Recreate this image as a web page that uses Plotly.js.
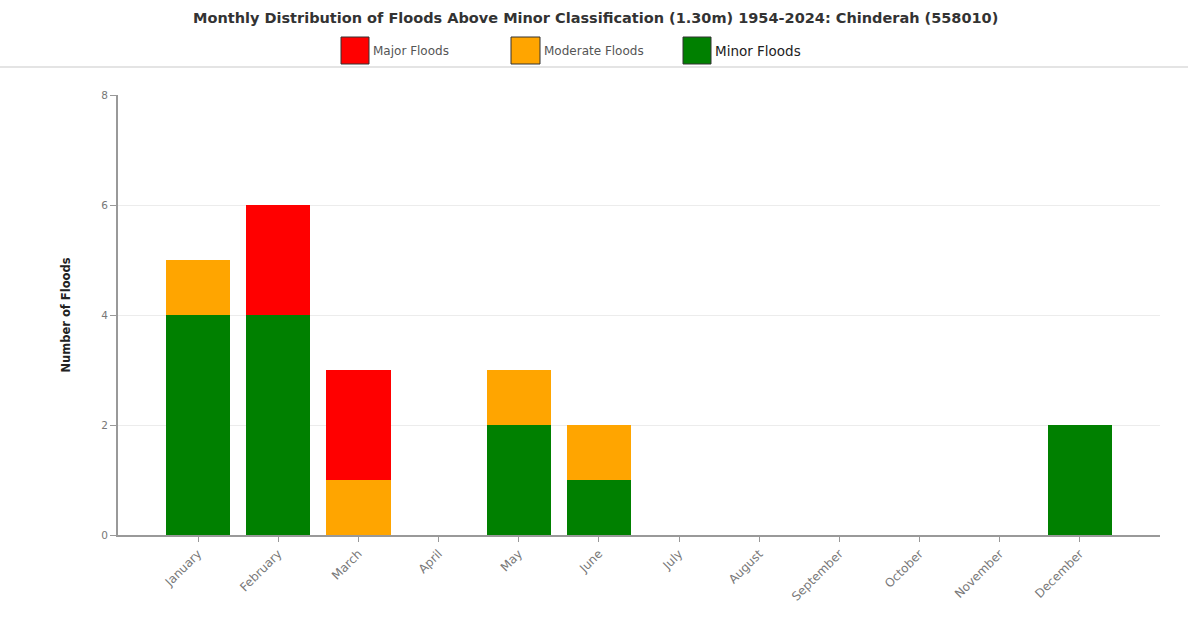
<!DOCTYPE html>
<html><head><meta charset="utf-8">
<script src="https://cdn.plot.ly/plotly-3.0.1.min.js"></script>
<style>html,body{margin:0;padding:0;background:#fff}#c{width:1188px;height:632px}</style>
</head><body><div id="c"></div>
<script>
const months = ["January","February","March","April","May","June","July","August","September","October","November","December"];
const minorFloods = [4,4,0,0,2,1,0,0,0,0,0,2];
const moderateFloods = [1,0,1,0,1,1,0,0,0,0,0,0];
const majorFloods = [0,2,2,0,0,0,0,0,0,0,0,0];
const seriesNames = ["Major Floods","Moderate Floods","Minor Floods"];
const seriesColors = ["#ff0000","#ffa500","#008000"];

const traces = [
  {type:"bar", name:"Minor Floods", x:months, y:minorFloods, marker:{color:"#008000"}, showlegend:false},
  {type:"bar", name:"Moderate Floods", x:months, y:moderateFloods, marker:{color:"#ffa500"}, showlegend:false},
  {type:"bar", name:"Major Floods", x:months, y:majorFloods, marker:{color:"#ff0000"}, showlegend:false}
];

const FONT = "DejaVu Sans, Verdana, sans-serif";
// custom legend (paper coordinates)
const legendBoxes = [[341,369],[511,540],[683,711]];
const legendFont = [{size:12,color:"#555"},{size:12,color:"#555"},{size:13.5,color:"#222"}];
const shapes = [];
const annotations = [];
const W=1188,H=632;
const px = v => (v-118)/(1160-118);
const py = v => (535-v)/(535-95);
seriesNames.forEach((n,i)=>{
  const [x0,x1]=legendBoxes[i];
  shapes.push({type:"rect", xref:"paper", yref:"paper",
    x0:px(x0), x1:px(x1), y0:py(64), y1:py(37),
    fillcolor:seriesColors[i], line:{color:"#333",width:1}});
  annotations.push({xref:"paper", yref:"paper", x:px(x1+2), y:py(51),
    xanchor:"left", yanchor:"middle", text:n, showarrow:false,
    font:{family:FONT, size:legendFont[i].size, color:legendFont[i].color}});
});
shapes.push({type:"line", xref:"paper", yref:"paper", x0:px(0), x1:px(1188),
  y0:py(67), y1:py(67), line:{color:"#e4e4e4", width:2}});

const layout = {
  width:W, height:H,
  margin:{l:118, r:28, t:95, b:97},
  paper_bgcolor:"#fff", plot_bgcolor:"#fff",
  barmode:"stack", bargap:0.2,
  title:{text:"<b>Monthly Distribution of Floods Above Minor Classification (1.30m) 1954-2024: Chinderah (558010)</b>",
    x:193/1188, xref:"container", xanchor:"left", y:1-18/632, yanchor:"middle",
    font:{family:FONT, size:14.5, color:"#333"}},
  xaxis:{type:"category", categoryorder:"array", categoryarray:months, range:[-1,12],
    showline:true, linecolor:"#999", linewidth:2, ticks:"outside", ticklen:5, tickcolor:"#999",
    tickangle:-45, tickfont:{family:FONT, size:12, color:"#777"},
    showgrid:false, zeroline:false, fixedrange:true},
  yaxis:{range:[0,8], tickvals:[0,2,4,6,8], showline:true, linecolor:"#999", linewidth:2,
    ticks:"outside", ticklen:6, tickcolor:"#999",
    tickfont:{family:FONT, size:10.5, color:"#777"},
    showgrid:true, gridcolor:"#ececec", gridwidth:1, zeroline:false,
    title:{text:"<b>Number of Floods</b>", standoff:28, font:{family:FONT, size:11.5, color:"#222"}}},
  shapes:shapes, annotations:annotations, showlegend:false
};
Plotly.newPlot("c", traces, layout, {displayModeBar:false, staticPlot:true});
</script></body></html>
